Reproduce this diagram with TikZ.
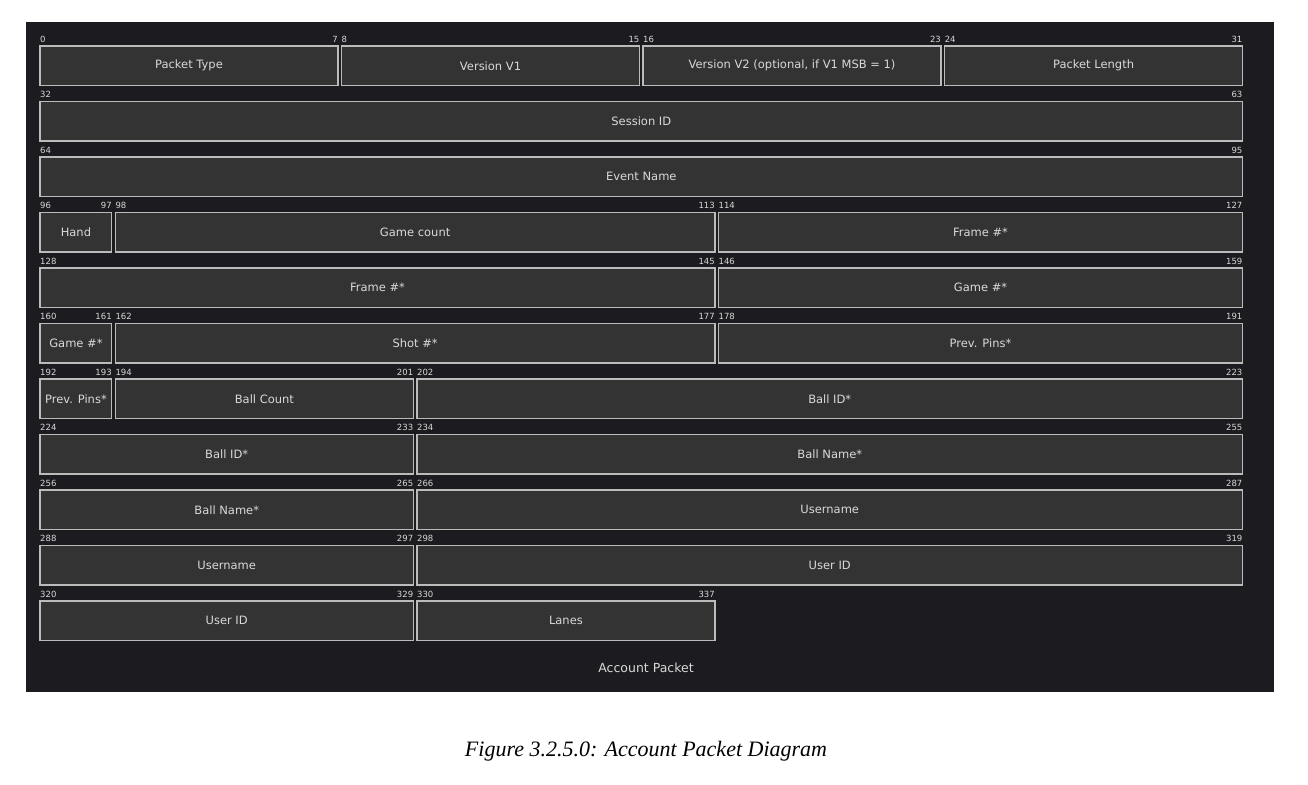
\documentclass[tikz,border=0pt]{standalone}
\usepackage{fontspec}
\setmainfont{DejaVu Sans}
\newfontfamily\capfont{Liberation Serif}
\begin{document}
\begin{tikzpicture}[x=1pt,y=-1pt,
  fieldbox/.style={draw=boxline,fill=boxfill,line width=1.2pt},
  fieldtxt/.style={text=white!85!black,font=\fontsize{11.5}{13}\selectfont},
  numtxt/.style={text=white!85!black,font=\fontsize{8.5}{9}\selectfont,inner sep=0pt,anchor=base west}]
\definecolor{bg}{HTML}{1C1B1F}
\definecolor{boxfill}{HTML}{333333}
\definecolor{boxline}{HTML}{BBBBBB}
\useasboundingbox (0,0) rectangle (1308,784);
\fill[white] (0,0) rectangle (1308,784);
\fill[bg] (26,22) rectangle (1274,692);
\newcommand{\fld}[5]{% row, b0, b1, label, name
  \pgfmathsetmacro{\xa}{40+mod(#2,32)*37.69}
  \pgfmathsetmacro{\xb}{40+(mod(#3,32)+1)*37.69-3.5}
  \pgfmathsetmacro{\ya}{46+55.5*(#1-1)}
  \pgfmathsetmacro{\yb}{\ya+39.5}
  \draw[fieldbox] (\xa,\ya) rectangle (\xb,\yb);
  \node[fieldtxt] (#5) at ({(\xa+\xb)/2},{(\ya+\yb)/2}) {#4};
  \node[numtxt] (#5s) at (\xa,\ya-4) {#2};
  \node[numtxt,anchor=base east] (#5e) at (\xb,\ya-4) {#3};
}
\fld{1}{0}{7}{Packet Type}{pt}
\fld{1}{8}{15}{Version V1}{v1}
\fld{1}{16}{23}{Version V2 (optional, if V1 MSB = 1)}{v2}
\fld{1}{24}{31}{Packet Length}{pl}
\fld{2}{32}{63}{Session ID}{sid}
\fld{3}{64}{95}{Event Name}{ev}
\fld{4}{96}{97}{Hand}{hand}
\fld{4}{98}{113}{Game count}{gc}
\fld{4}{114}{127}{Frame \#*}{fra}
\fld{5}{128}{145}{Frame \#*}{frb}
\fld{5}{146}{159}{Game \#*}{gna}
\fld{6}{160}{161}{Game \#*}{gnb}
\fld{6}{162}{177}{Shot \#*}{shot}
\fld{6}{178}{191}{Prev. Pins*}{ppa}
\fld{7}{192}{193}{\hspace*{-4pt}Prev. Pins*\hspace*{-4pt}}{ppb}
\fld{7}{194}{201}{Ball Count}{bc}
\fld{7}{202}{223}{Ball ID*}{bia}
\fld{8}{224}{233}{Ball ID*}{bib}
\fld{8}{234}{255}{Ball Name*}{bna}
\fld{9}{256}{265}{Ball Name*}{bnb}
\fld{9}{266}{287}{Username}{una}
\fld{10}{288}{297}{Username}{unb}
\fld{10}{298}{319}{User ID}{uia}
\fld{11}{320}{329}{User ID}{uib}
\fld{11}{330}{337}{Lanes}{lanes}
\node[fieldtxt,font=\fontsize{12.5}{14}\selectfont] (title) at (646,668) {Account Packet};
\node[font=\capfont\itshape\fontsize{22}{26}\selectfont] (cap) at (646,751) {Figure 3.2.5.0: Account Packet Diagram};
\end{tikzpicture}
\end{document}
